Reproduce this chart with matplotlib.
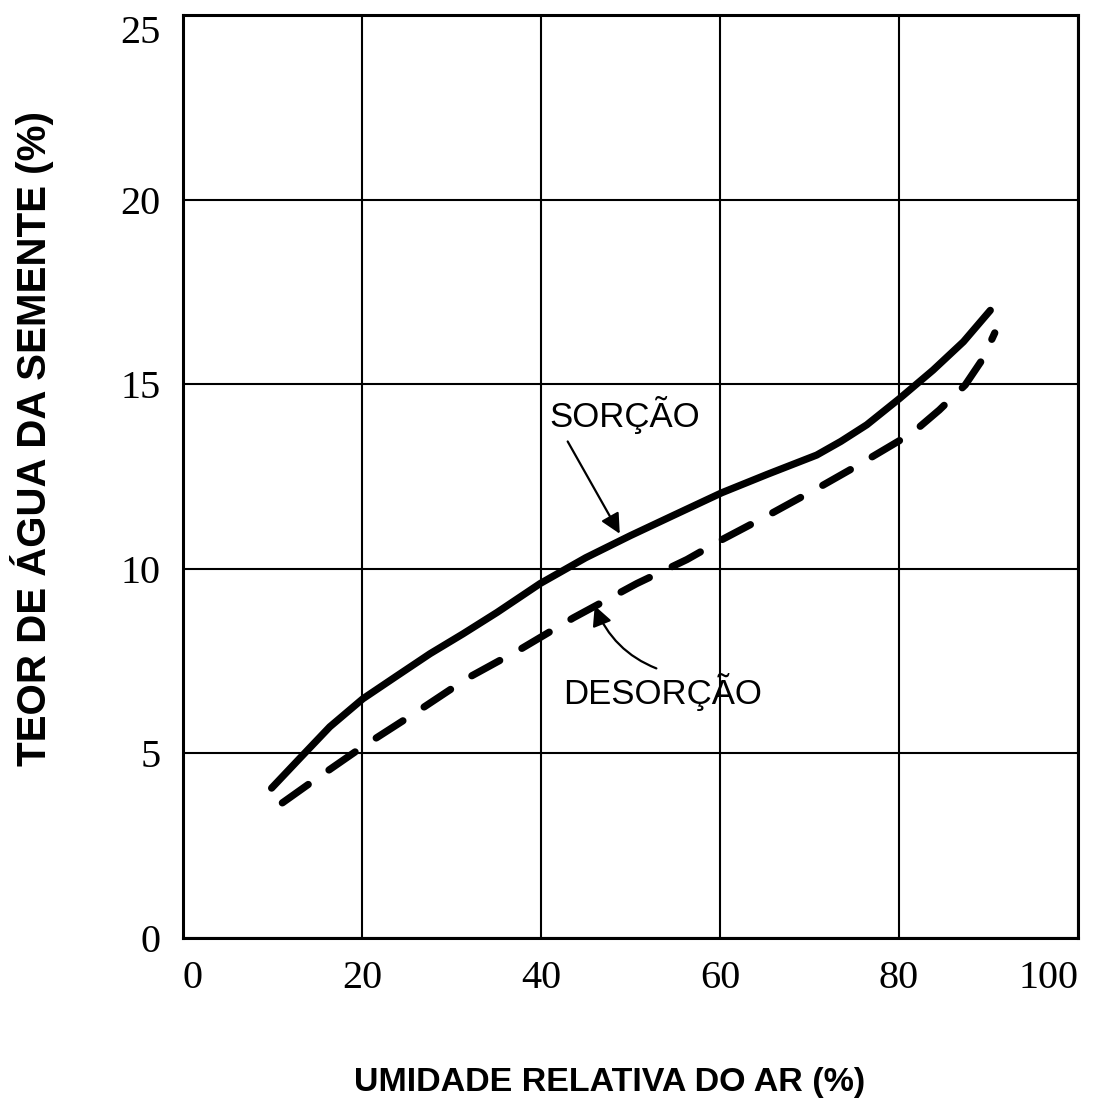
import matplotlib
matplotlib.use("Agg")
import matplotlib.pyplot as plt

# leituras da figura (umidade relativa %, teor de agua %)
sorcao_x = [9.9, 13.1, 16.4, 20.1, 23.9, 27.6, 31.3, 35.1, 39.9, 45, 50, 55,
            60.2, 65.3, 70.8, 73.5, 76.4, 80.1, 83.8, 87.2, 90.2]
sorcao_y = [4.06, 4.88, 5.72, 6.48, 7.1, 7.7, 8.24, 8.82, 9.6, 10.3, 10.9, 11.47,
            12.06, 12.56, 13.08, 13.45, 13.9, 14.62, 15.38, 16.15, 17.0]

desorcao_x = [11.1, 14.7, 20, 25.9, 31.8, 37.9, 43.6, 50.7, 56.3, 60.3, 65, 71.4,
              75.1, 81.5, 84.5, 87.4, 89.4, 90.7]
desorcao_y = [3.66, 4.28, 5.17, 6.09, 7.04, 7.85, 8.67, 9.6, 10.25, 10.8, 11.4, 12.25,
              12.76, 13.68, 14.3, 14.98, 15.7, 16.39]

x_ticks = [0, 20, 40, 60, 80, 100]
y_ticks = [0, 5, 10, 15, 20, 25]

fig = plt.figure(figsize=(11.01, 11.07), dpi=100)
ax = fig.add_axes([183 / 1101, 169 / 1107, 895 / 1101, 923 / 1107])

ax.set_xlim(0, 100)
ax.set_ylim(0, 25)
ax.set_xticks(x_ticks)
ax.set_yticks(y_ticks)
ax.grid(True, color="black", linewidth=1.5)
ax.set_axisbelow(True)
for s in ax.spines.values():
    s.set_linewidth(2.2)

ax.tick_params(length=0, labelsize=29, pad=16)
ax.set_xticklabels([str(v) for v in x_ticks], family="Liberation Serif")
ax.set_yticklabels([str(v) for v in y_ticks], family="Liberation Serif")
xl = ax.get_xticklabels()
xl[0].set_ha("left")
xl[-1].set_ha("right")
ax.get_yticklabels()[-1].set_va("top")

ax.plot(sorcao_x, sorcao_y, color="black", linewidth=5.2,
        solid_capstyle="round", solid_joinstyle="round")
ax.plot(desorcao_x, desorcao_y, color="black", linewidth=5.2,
        linestyle=(0, (4.4, 3.5)), dash_capstyle="round", dash_joinstyle="round")

ax.annotate("SORÇÃO", xy=(48.8, 10.95), xytext=(49.4, 14.17),
            ha="center", va="center", fontsize=25, family="Liberation Sans",
            arrowprops=dict(arrowstyle="-|>", color="black", lw=1.6,
                            mutation_scale=30, relpos=(0.09, 0.0),
                            shrinkA=4, shrinkB=0))
ax.annotate("DESORÇÃO", xy=(46.0, 9.0), xytext=(53.6, 6.66),
            ha="center", va="center", fontsize=25, family="Liberation Sans",
            arrowprops=dict(arrowstyle="-|>", color="black", lw=1.6,
                            mutation_scale=30, relpos=(0.54, 1.0),
                            shrinkA=4, shrinkB=0,
                            connectionstyle="arc3,rad=-0.25"))

ax.set_xlabel("UMIDADE RELATIVA DO AR (%)", fontsize=24.5, fontweight="bold",
              family="Liberation Sans", va="center")
ax.xaxis.set_label_coords((610 - 183) / 895, (938 - 1083) / 923)
ax.set_ylabel("TEOR DE ÁGUA DA SEMENTE (%)", fontsize=29, fontweight="bold",
              family="Liberation Sans", va="center")
ax.yaxis.set_label_coords((32 - 183) / 895, (938 - 439) / 923)

fig.savefig("out.png", dpi=100, facecolor="white")
